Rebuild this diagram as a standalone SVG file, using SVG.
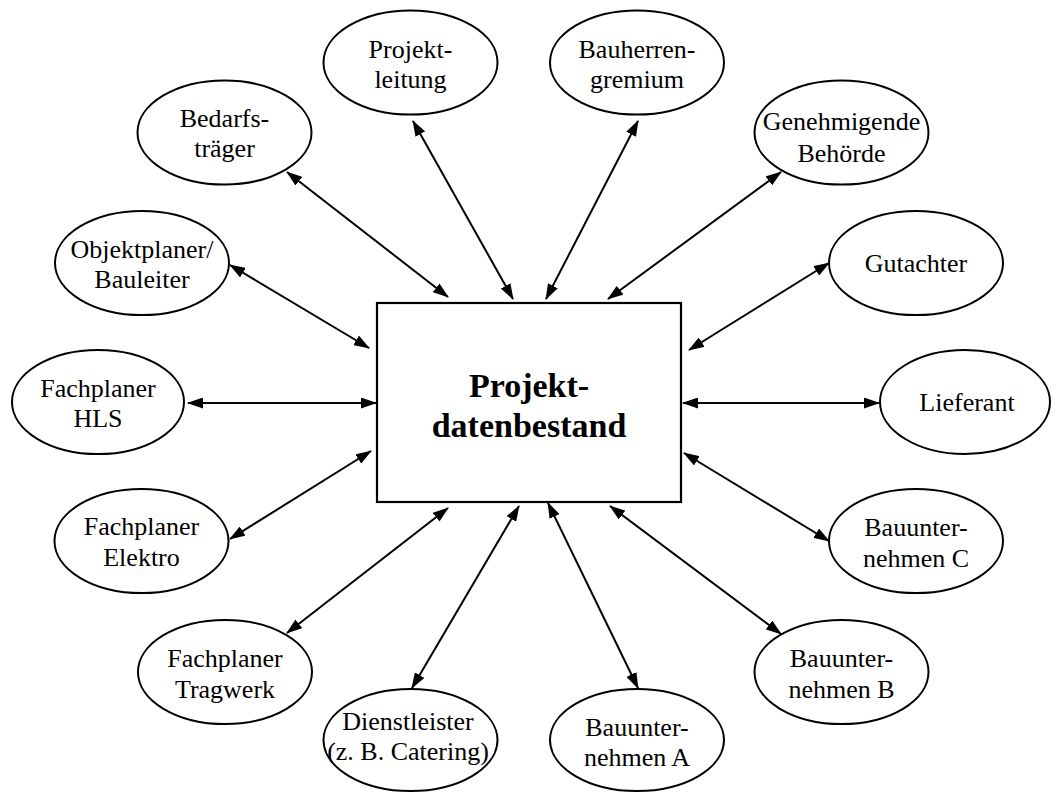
<svg xmlns="http://www.w3.org/2000/svg" width="1052" height="792" viewBox="0 0 1052 792">
  <style>
    .node ellipse { fill: #ffffff; stroke: #000000; stroke-width: 2; }
    .hub rect { fill: #ffffff; stroke: #000000; stroke-width: 2.2; }
    .lbl { font-family: "Liberation Serif", "Times New Roman", serif; font-size: 26px; fill: #000000; text-anchor: middle; }
    .hubl { font-family: "Liberation Serif", "Times New Roman", serif; font-size: 34px; font-weight: bold; fill: #000000; text-anchor: middle; }
    .conn path { fill: none; stroke: #000000; stroke-width: 2; marker-start: url(#head); marker-end: url(#head); }
  </style>
  <defs>
    <marker id="head" viewBox="0 0 16 11" refX="15" refY="5.5" markerWidth="16" markerHeight="11" markerUnits="userSpaceOnUse" orient="auto-start-reverse">
      <path d="M0,0 L16,5.5 L0,11 z" fill="#000000"/>
    </marker>
  </defs>
  <rect width="1052" height="792" fill="#ffffff"/>

  <!-- connectors: every participant exchanges data with the central store -->
  <g id="connectors" class="conn">
    <path d="M413,121 L513,299"/>
    <path d="M638,121 L546,299"/>
    <path d="M287,172 L448,297"/>
    <path d="M781,172 L608,299"/>
    <path d="M230,265 L369,348"/>
    <path d="M829,263 L689,350"/>
    <path d="M188,403 L376,403"/>
    <path d="M879,403 L683,403"/>
    <path d="M230,539 L371,451"/>
    <path d="M829,541 L684,453"/>
    <path d="M287,633 L448,508"/>
    <path d="M781,634 L610,506"/>
    <path d="M412,688 L519,506"/>
    <path d="M638,688 L548,503"/>
  </g>

  <!-- central data store -->
  <g id="projektdatenbestand" class="hub">
    <rect x="377" y="303" width="304" height="199"/>
    <text class="hubl" x="529" y="397">Projekt-</text>
    <text class="hubl" x="529" y="437">datenbestand</text>
  </g>

  <g id="projektleitung" class="node">
    <ellipse cx="410.5" cy="62.5" rx="87" ry="52"/>
    <text class="lbl" x="410.5" y="58">Projekt-</text>
    <text class="lbl" x="410.5" y="88">leitung</text>
  </g>
  <g id="bauherrengremium" class="node">
    <ellipse cx="637" cy="62.5" rx="87" ry="52"/>
    <text class="lbl" x="637" y="58">Bauherren-</text>
    <text class="lbl" x="637" y="88">gremium</text>
  </g>
  <g id="bedarfstraeger" class="node">
    <ellipse cx="224.5" cy="132.5" rx="87" ry="52"/>
    <text class="lbl" x="224.5" y="127">Bedarfs-</text>
    <text class="lbl" x="224.5" y="157">träger</text>
  </g>
  <g id="genehmigende-behoerde" class="node">
    <ellipse cx="841.5" cy="132.5" rx="87" ry="52"/>
    <text class="lbl" x="841.5" y="130">Genehmigende</text>
    <text class="lbl" x="841.5" y="162">Behörde</text>
  </g>
  <g id="objektplaner" class="node">
    <ellipse cx="142" cy="263" rx="87" ry="52"/>
    <text class="lbl" x="142" y="258">Objektplaner/</text>
    <text class="lbl" x="142" y="288">Bauleiter</text>
  </g>
  <g id="gutachter" class="node">
    <ellipse cx="916" cy="263" rx="87" ry="52"/>
    <text class="lbl" x="916" y="272">Gutachter</text>
  </g>
  <g id="fachplaner-hls" class="node">
    <ellipse cx="98" cy="402" rx="86" ry="52"/>
    <text class="lbl" x="98" y="397">Fachplaner</text>
    <text class="lbl" x="98" y="427">HLS</text>
  </g>
  <g id="lieferant" class="node">
    <ellipse cx="965" cy="402" rx="85" ry="52"/>
    <text class="lbl" x="967" y="411">Lieferant</text>
  </g>
  <g id="fachplaner-elektro" class="node">
    <ellipse cx="141.5" cy="541" rx="87" ry="52"/>
    <text class="lbl" x="141.5" y="535">Fachplaner</text>
    <text class="lbl" x="141.5" y="566">Elektro</text>
  </g>
  <g id="bauunternehmen-c" class="node">
    <ellipse cx="916" cy="541" rx="87" ry="52"/>
    <text class="lbl" x="916" y="536">Bauunter-</text>
    <text class="lbl" x="916" y="567">nehmen C</text>
  </g>
  <g id="fachplaner-tragwerk" class="node">
    <ellipse cx="225" cy="672" rx="87" ry="52"/>
    <text class="lbl" x="225" y="667">Fachplaner</text>
    <text class="lbl" x="225" y="698">Tragwerk</text>
  </g>
  <g id="bauunternehmen-b" class="node">
    <ellipse cx="841.5" cy="672" rx="87" ry="52"/>
    <text class="lbl" x="841.5" y="667">Bauunter-</text>
    <text class="lbl" x="841.5" y="698">nehmen B</text>
  </g>
  <g id="dienstleister" class="node">
    <ellipse cx="410.5" cy="740" rx="87" ry="51"/>
    <text class="lbl" x="408" y="730">Dienstleister</text>
    <text class="lbl" x="408" y="760">(z. B. Catering)</text>
  </g>
  <g id="bauunternehmen-a" class="node">
    <ellipse cx="637" cy="740" rx="87" ry="51"/>
    <text class="lbl" x="637" y="736">Bauunter-</text>
    <text class="lbl" x="637" y="766">nehmen A</text>
  </g>
</svg>
